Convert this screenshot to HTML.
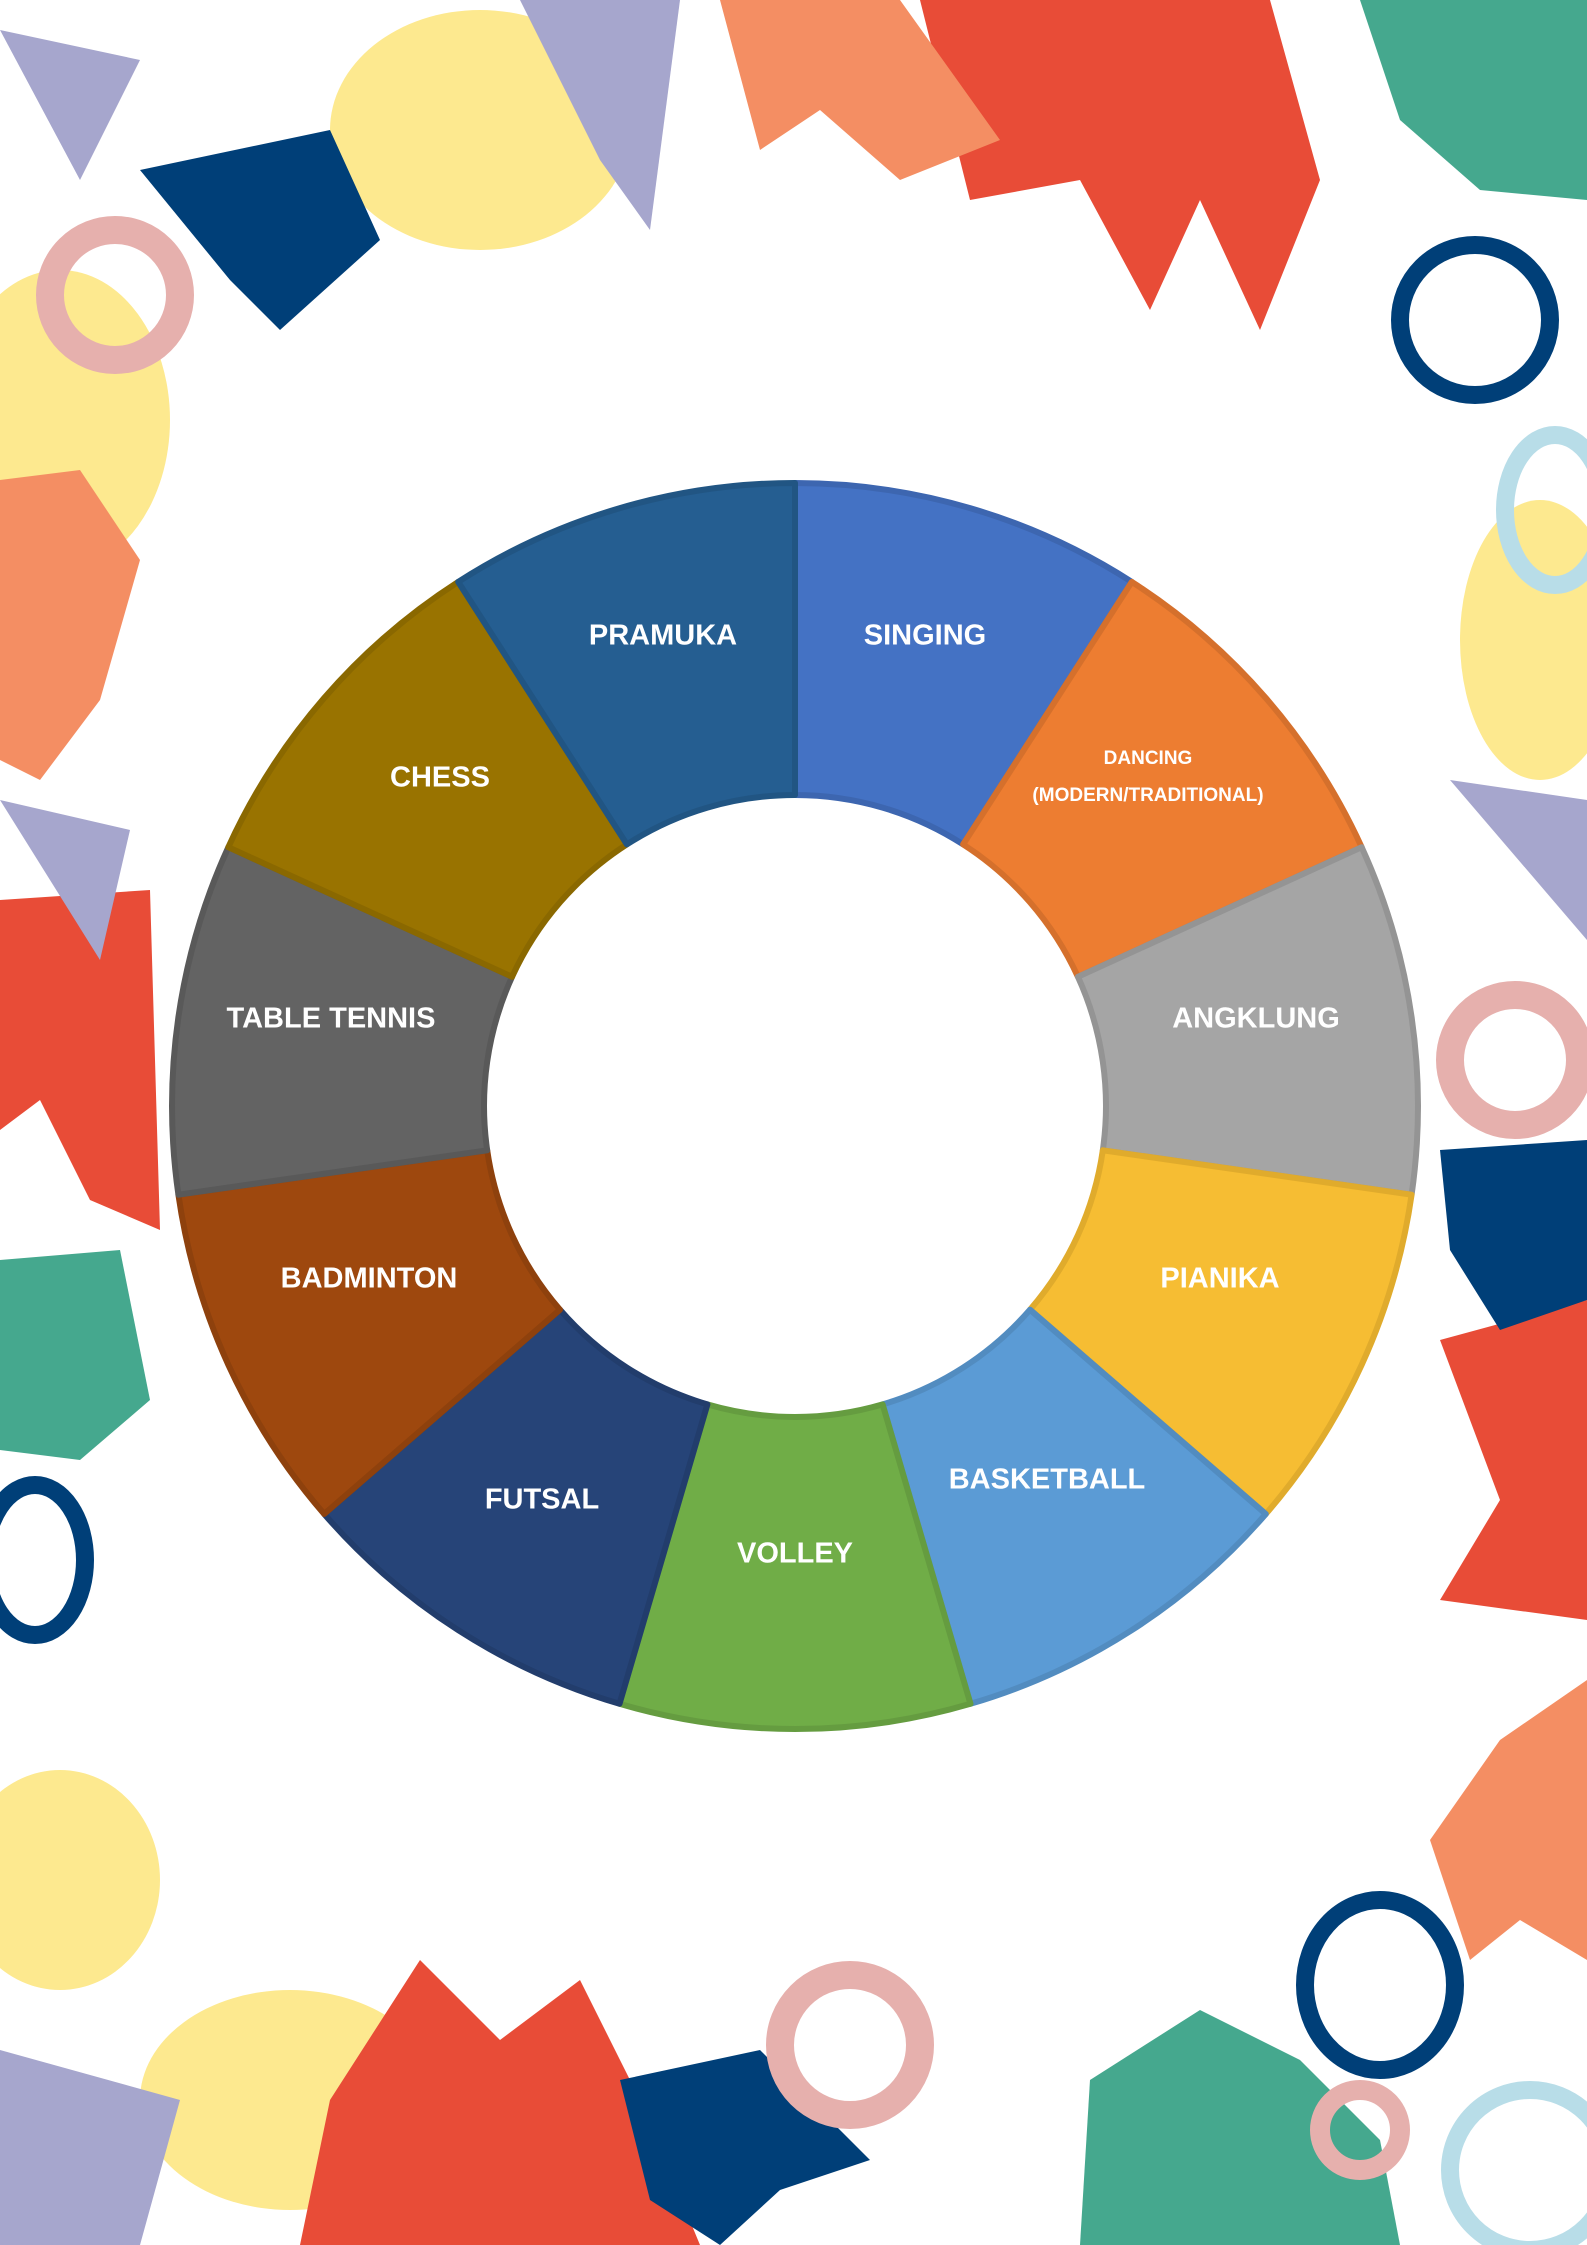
<!DOCTYPE html>
<html><head><meta charset="utf-8"><style>
html,body{margin:0;padding:0;background:#fff;}
svg{display:block}
text{font-family:"Liberation Sans",sans-serif;font-weight:bold;fill:#fff;text-anchor:middle;dominant-baseline:middle}
</style></head><body>
<svg width="1587" height="2245" viewBox="0 0 1587 2245" xmlns="http://www.w3.org/2000/svg">
<rect width="1587" height="2245" fill="#fff"/>
<!-- decorations (approximate) -->
<g>
<ellipse cx="480" cy="130" rx="150" ry="120" fill="#fde98f"/>
<ellipse cx="60" cy="420" rx="110" ry="150" fill="#fde98f"/>
<ellipse cx="1540" cy="640" rx="80" ry="140" fill="#fde98f"/>
<ellipse cx="60" cy="1880" rx="100" ry="110" fill="#fde98f"/>
<ellipse cx="290" cy="2100" rx="150" ry="110" fill="#fde98f"/>
<path d="M920 0 L1270 0 L1320 180 L1260 330 L1200 200 L1150 310 L1080 180 L970 200 Z" fill="#e84c37"/>
<path d="M720 0 L900 0 L1000 140 L900 180 L820 110 L760 150 Z" fill="#f48e63"/>
<path d="M0 900 L150 890 L160 1230 L90 1200 L40 1100 L0 1130 Z" fill="#e84c37"/>
<path d="M1440 1340 L1587 1300 L1587 1620 L1440 1600 L1500 1500 Z" fill="#e84c37"/>
<path d="M300 2245 L330 2100 L420 1960 L500 2040 L580 1980 L640 2100 L700 2245 Z" fill="#e84c37"/>
<path d="M0 480 L80 470 L140 560 L100 700 L40 780 L0 760 Z" fill="#f48e63"/>
<path d="M1587 1680 L1500 1740 L1430 1840 L1470 1960 L1520 1920 L1587 1960 Z" fill="#f48e63"/>
<path d="M1360 0 L1587 0 L1587 200 L1480 190 L1400 120 Z" fill="#45a88e"/>
<path d="M0 1260 L120 1250 L150 1400 L80 1460 L0 1450 Z" fill="#45a88e"/>
<path d="M1080 2245 L1090 2080 L1200 2010 L1300 2060 L1380 2140 L1400 2245 Z" fill="#45a88e"/>
<path d="M140 170 L330 130 L380 240 L280 330 L230 280 Z" fill="#003f78"/>
<path d="M1440 1150 L1587 1140 L1587 1300 L1500 1330 L1450 1250 Z" fill="#003f78"/>
<path d="M620 2080 L760 2050 L870 2160 L780 2190 L720 2245 L650 2200 Z" fill="#003f78"/>
<circle cx="115" cy="295" r="65" fill="none" stroke="#e6b0ad" stroke-width="28"/>
<circle cx="1515" cy="1060" r="65" fill="none" stroke="#e6b0ad" stroke-width="28"/>
<circle cx="850" cy="2045" r="70" fill="none" stroke="#e6b0ad" stroke-width="28"/>
<circle cx="1360" cy="2130" r="40" fill="none" stroke="#e6b0ad" stroke-width="20"/>
<ellipse cx="1475" cy="320" rx="75" ry="75" fill="none" stroke="#003f78" stroke-width="18"/>
<ellipse cx="1380" cy="1985" rx="75" ry="85" fill="none" stroke="#003f78" stroke-width="18"/>
<ellipse cx="35" cy="1560" rx="50" ry="75" fill="none" stroke="#003f78" stroke-width="18"/>
<ellipse cx="1555" cy="510" rx="50" ry="75" fill="none" stroke="#b8dde8" stroke-width="18"/>
<ellipse cx="1530" cy="2170" rx="80" ry="80" fill="none" stroke="#b8dde8" stroke-width="18"/>
<path d="M0 30 L140 60 L80 180 Z" fill="#a6a6cd"/>
<path d="M520 0 L680 0 L650 230 L600 160 Z" fill="#a6a6cd"/>
<path d="M0 800 L130 830 L100 960 Z" fill="#a6a6cd"/>
<path d="M1450 780 L1587 800 L1587 940 Z" fill="#a6a6cd"/>
<path d="M0 2050 L180 2100 L140 2245 L0 2245 Z" fill="#a6a6cd"/>
</g>
<!-- donut -->
<g stroke-width="6" stroke-linejoin="round">
<path d="M795 483 A623 623 0 0 1 1131.8 581.9 L963.1 844.4 A311 311 0 0 0 795 795 Z" fill="#4472c4" stroke="#3d66b0"/>
<path d="M1131.8 581.9 A623 623 0 0 1 1361.7 847.2 L1077.9 976.8 A311 311 0 0 0 963.1 844.4 Z" fill="#ed7d31" stroke="#d5702c"/>
<path d="M1361.7 847.2 A623 623 0 0 1 1411.6 1194.7 L1102.8 1150.3 A311 311 0 0 0 1077.9 976.8 Z" fill="#a5a5a5" stroke="#949494"/>
<path d="M1411.6 1194.7 A623 623 0 0 1 1265.8 1514 L1030 1309.7 A311 311 0 0 0 1102.8 1150.3 Z" fill="#f6bd33" stroke="#e0ab2c"/>
<path d="M1265.8 1514 A623 623 0 0 1 970.5 1703.8 L882.6 1404.4 A311 311 0 0 0 1030 1309.7 Z" fill="#5b9bd5" stroke="#528cc0"/>
<path d="M970.5 1703.8 A623 623 0 0 1 619.5 1703.8 L707.4 1404.4 A311 311 0 0 0 882.6 1404.4 Z" fill="#70ad47" stroke="#659c40"/>
<path d="M619.5 1703.8 A623 623 0 0 1 324.2 1514 L560 1309.7 A311 311 0 0 0 707.4 1404.4 Z" fill="#264478" stroke="#223d6c"/>
<path d="M324.2 1514 A623 623 0 0 1 178.4 1194.7 L487.2 1150.3 A311 311 0 0 0 560 1309.7 Z" fill="#9e480e" stroke="#8e410d"/>
<path d="M178.4 1194.7 A623 623 0 0 1 228.3 847.2 L512.1 976.8 A311 311 0 0 0 487.2 1150.3 Z" fill="#636363" stroke="#595959"/>
<path d="M228.3 847.2 A623 623 0 0 1 458.2 581.9 L626.9 844.4 A311 311 0 0 0 512.1 976.8 Z" fill="#997300" stroke="#8a6800"/>
<path d="M458.2 581.9 A623 623 0 0 1 795 483 L795 795 A311 311 0 0 0 626.9 844.4 Z" fill="#255e91" stroke="#215583"/>
</g>
<g font-size="29">
<text x="663" y="637">PRAMUKA</text>
<text x="925" y="637">SINGING</text>
<text x="1148" y="759" font-size="19">DANCING</text>
<text x="1148" y="796" font-size="19">(MODERN/TRADITIONAL)</text>
<text x="1256" y="1020">ANGKLUNG</text>
<text x="1220" y="1280">PIANIKA</text>
<text x="1047" y="1481">BASKETBALL</text>
<text x="795" y="1555">VOLLEY</text>
<text x="542" y="1501">FUTSAL</text>
<text x="369" y="1280">BADMINTON</text>
<text x="331" y="1020">TABLE TENNIS</text>
<text x="440" y="779">CHESS</text>
</g>
</svg>
</body></html>
